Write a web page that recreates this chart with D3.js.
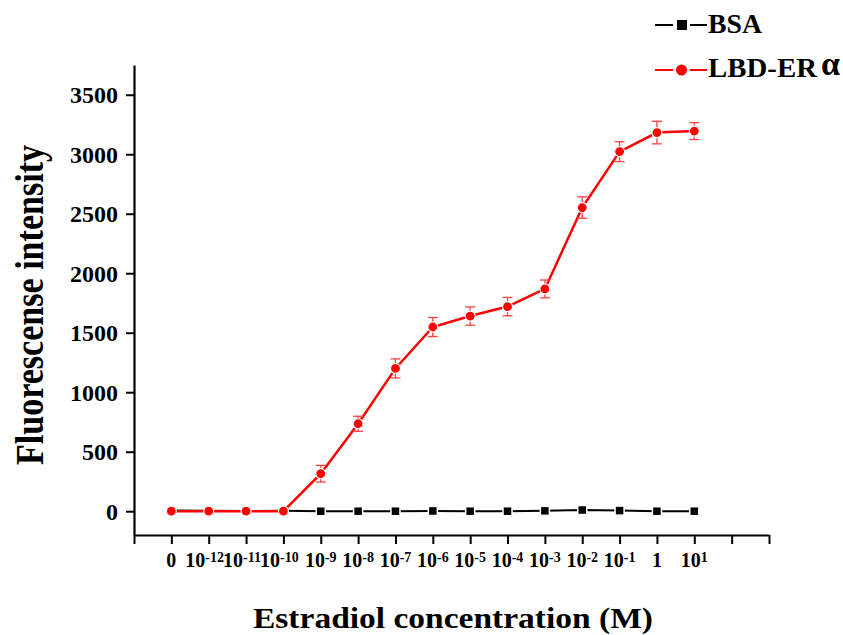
<!DOCTYPE html>
<html>
<head>
<meta charset="utf-8">
<script src="https://cdn.jsdelivr.net/npm/d3@7"></script>
<style>
  body { margin: 0; background: #fff; }
  svg { display: block; font-family: "Liberation Serif", "Times New Roman", serif; font-weight: bold; }
</style>
</head>
<body>
<svg id="chart" width="843" height="635"></svg>
<script>
// concentrations, written as base 10 and exponent ("" = plain label)
const labels = [
  ["0", ""], ["10", "-12"], ["10", "-11"], ["10", "-10"], ["10", "-9"], ["10", "-8"],
  ["10", "-7"], ["10", "-6"], ["10", "-5"], ["10", "-4"], ["10", "-3"], ["10", "-2"],
  ["10", "-1"], ["1", ""], ["10", "1"]
]
const bsa = [5, 3, 2, 3, 0, 0, 0, 2, 0, 0, 3, 10, 5, 0, 0]
const lbd = [0, 0, 0, 0, 315, 735, 1200, 1548, 1640, 1720, 1868, 2552, 3022, 3182, 3195]
const lbdErr = [20, 20, 20, 20, 70, 63, 80, 80, 77, 77, 75, 90, 84, 95, 71]
const yTicks = [0, 500, 1000, 1500, 2000, 2500, 3000, 3500]

const svg = d3.select("#chart")

const x = d3.scaleLinear().domain([-1, 16]).range([134, 769])
const y = d3.scaleLinear().domain([-200, 3750]).range([535, 65])

// axes
svg.append("g")
  .attr("transform", "translate(134,0)")
  .call(d3.axisLeft(y).tickValues(yTicks).tickSize(8).tickSizeOuter(0).tickFormat(""))
svg.append("g")
  .attr("transform", "translate(0,535)")
  .call(d3.axisBottom(x).tickValues(d3.range(-1, 17)).tickSize(9).tickSizeOuter(0).tickFormat(""))

svg.selectAll(".domain").attr("stroke", "#000").attr("stroke-width", 2.2)
svg.selectAll(".tick line").attr("stroke", "#000").attr("stroke-width", 2)

// y tick labels
svg.append("g").selectAll("text")
  .data(yTicks).enter().append("text")
  .attr("x", 118)
  .attr("y", d => y(d))
  .attr("dy", "0.35em")
  .attr("text-anchor", "end")
  .attr("font-size", 24)
  .text(d => d)

// x tick labels with superscripts
const xl = svg.append("g").selectAll("text")
  .data(labels).enter().append("text")
  .attr("x", (d, i) => x(i) - (d[1].length > 2 ? 4 : 0))
  .attr("y", 567)
  .attr("text-anchor", "middle")
  .attr("font-size", 20)
xl.append("tspan").text(d => d[0])
xl.append("tspan")
  .attr("font-size", 14)
  .attr("dy", -5)
  .text(d => d[1])

// axis titles
svg.append("text")
  .attr("x", 453).attr("y", 628)
  .attr("text-anchor", "middle")
  .attr("font-size", 30)
  .attr("textLength", 400)
  .attr("lengthAdjust", "spacingAndGlyphs")
  .text("Estradiol concentration (M)")

svg.append("text")
  .attr("transform", "translate(43,305) scale(1.2,1) rotate(-90)")
  .attr("text-anchor", "middle")
  .attr("font-size", 33)
  .attr("textLength", 320)
  .attr("lengthAdjust", "spacingAndGlyphs")
  .text("Fluorescense intensity")

const line = d3.line().x((d, i) => x(i)).y(d => y(d))

// BSA series
svg.append("path")
  .datum(bsa)
  .attr("fill", "none")
  .attr("stroke", "#000")
  .attr("stroke-width", 2)
  .attr("d", line)
svg.append("g").selectAll("rect")
  .data(bsa).enter().append("rect")
  .attr("x", (d, i) => x(i) - 4.5)
  .attr("y", d => y(d) - 4.5)
  .attr("width", 9).attr("height", 9)
  .attr("fill", "#000")
  .attr("stroke", "#fff")
  .attr("stroke-width", 1.5)

// LBD-ERα series
svg.append("path")
  .datum(lbd)
  .attr("fill", "none")
  .attr("stroke", "#ff0000")
  .attr("stroke-width", 2.5)
  .attr("d", line)

const eb = svg.append("g")
  .attr("stroke", "#ff4040")
  .attr("stroke-width", 1.3)
  .selectAll("g")
  .data(lbd).enter().append("g")
eb.append("line")
  .attr("x1", (d, i) => x(i)).attr("x2", (d, i) => x(i))
  .attr("y1", (d, i) => y(d + lbdErr[i])).attr("y2", (d, i) => y(d - lbdErr[i]))
eb.append("line")
  .attr("x1", (d, i) => x(i) - 5).attr("x2", (d, i) => x(i) + 5)
  .attr("y1", (d, i) => y(d + lbdErr[i])).attr("y2", (d, i) => y(d + lbdErr[i]))
eb.append("line")
  .attr("x1", (d, i) => x(i) - 5).attr("x2", (d, i) => x(i) + 5)
  .attr("y1", (d, i) => y(d - lbdErr[i])).attr("y2", (d, i) => y(d - lbdErr[i]))

svg.append("g").selectAll("circle")
  .data(lbd).enter().append("circle")
  .attr("cx", (d, i) => x(i))
  .attr("cy", d => y(d))
  .attr("r", 5)
  .attr("fill", "#ff0000")
  .attr("stroke", "#fff")
  .attr("stroke-width", 1.2)

// legend
const lg = svg.append("g")
const legendRows = [
  {cy: 25, color: "#000", base: 33},
  {cy: 70, color: "#ff0000", base: 77}
]
legendRows.forEach(r => {
  lg.append("line").attr("x1", 655).attr("x2", 673).attr("y1", r.cy).attr("y2", r.cy)
    .attr("stroke", r.color).attr("stroke-width", 2)
  lg.append("line").attr("x1", 690).attr("x2", 707).attr("y1", r.cy).attr("y2", r.cy)
    .attr("stroke", r.color).attr("stroke-width", 2)
})
lg.append("rect").attr("x", 677).attr("y", 20).attr("width", 10).attr("height", 10)
  .attr("fill", "#000")
lg.append("text").attr("x", 708).attr("y", 33).attr("font-size", 27)
  .attr("textLength", 54).attr("lengthAdjust", "spacingAndGlyphs")
  .text("BSA")

lg.append("circle").attr("cx", 681.5).attr("cy", 70).attr("r", 5.5)
  .attr("fill", "#ff0000")
lg.append("text").attr("x", 708).attr("y", 77).attr("font-size", 27)
  .attr("textLength", 109).attr("lengthAdjust", "spacingAndGlyphs")
  .text("LBD-ER")
lg.append("text").attr("x", 821).attr("y", 75).attr("font-size", 34)
  .text("α")
</script>
</body>
</html>
